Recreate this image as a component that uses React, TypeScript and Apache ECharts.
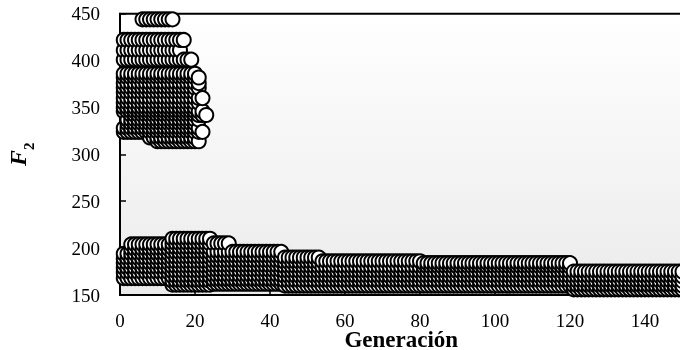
import React, { useEffect, useRef } from "react";
import * as echarts from "echarts";

// Runs of individuals that persisted across generations: [fromGen, toGen, F2]
const upperRuns: [number, number, number][] = [
  [6, 14, 444],
  [1, 17, 422],
  [1, 16, 411],
  [1, 19, 401],
  [1, 20, 386],
  [1, 21, 382],
  [1, 21, 376],
  [1, 21, 371],
  [1, 20, 366],
  [1, 22, 360],
  [1, 21, 355],
  [1, 20, 350],
  [1, 22, 346],
  [3, 23, 342],
  [2, 21, 337],
  [2, 20, 333],
  [1, 21, 328],
  [1, 22, 324],
  [8, 20, 318],
  [10, 21, 314],
];

const lowerRuns: [number, number, number][] = [
  [1, 2, 194],
  [1, 2, 189],
  [1, 2, 184],
  [1, 2, 179],
  [1, 2, 174],
  [1, 13, 168],
  [3, 13, 204],
  [3, 13, 199],
  [3, 13, 194],
  [3, 13, 189],
  [3, 13, 184],
  [3, 13, 179],
  [3, 13, 174],
  [14, 24, 210],
  [14, 24, 205],
  [14, 24, 200],
  [14, 24, 195],
  [14, 24, 190],
  [14, 24, 185],
  [14, 24, 180],
  [14, 24, 175],
  [14, 24, 170],
  [14, 24, 165],
  [14, 24, 161],
  [25, 29, 205],
  [25, 43, 196],
  [25, 43, 191],
  [25, 43, 186],
  [25, 43, 181],
  [25, 43, 176],
  [25, 43, 171],
  [25, 43, 166],
  [25, 43, 162],
  [44, 53, 190],
  [44, 53, 185],
  [44, 53, 180],
  [44, 53, 175],
  [44, 53, 170],
  [44, 53, 165],
  [44, 53, 160],
  [54, 80, 186],
  [81, 120, 184],
  [54, 120, 180],
  [54, 120, 175],
  [54, 120, 170],
  [54, 120, 165],
  [54, 120, 160],
  [121, 150, 175],
  [121, 150, 170],
  [121, 150, 165],
  [121, 150, 160],
  [121, 150, 156],
];

const yTicks = [150, 200, 250, 300, 350, 400, 450];
const xMax = 150;

function expand(runs: [number, number, number][]) {
  const pts: [number, number][] = [];
  for (const [a, b, f] of runs) {
    for (let g = a; g <= b; g++) pts.push([g, f]);
  }
  return pts;
}

export default function App() {
  const ref = useRef<HTMLDivElement>(null);
  useEffect(() => {
    if (!ref.current) return;
    const chart = echarts.init(ref.current, undefined, { renderer: "svg" });
    const pts = expand(upperRuns)
      .concat(expand(lowerRuns))
      .sort((p, q) => (p[0] - q[0]) || (p[1] - q[1]));
    const font = "Liberation Serif";
    chart.setOption({
      animation: false,
      grid: {
        left: 120,
        top: 13.7,
        right: -2.5,
        bottom: 55,
        containLabel: false,
        outerBoundsMode: "none",
        show: true,
        borderColor: "#000",
        borderWidth: 2,
        backgroundColor: new echarts.graphic.LinearGradient(0, 0, 0, 1, [
          { offset: 0, color: "#ffffff" },
          { offset: 1, color: "#ebebeb" },
        ]),
      },
      xAxis: {
        type: "value",
        min: 0,
        max: xMax,
        interval: 20,
        splitLine: { show: false },
        axisLine: { lineStyle: { color: "#000", width: 2 } },
        axisTick: { inside: true, length: 6, lineStyle: { color: "#000", width: 1.5 } },
        axisLabel: {
          color: "#000",
          fontFamily: font,
          fontSize: 19,
          lineHeight: 16,
          margin: 17,
          showMaxLabel: false,
        },
        name: "Generación",
        nameLocation: "middle",
        nameGap: 33,
        nameMoveOverlap: false,
        nameTextStyle: {
          color: "#000",
          fontFamily: font,
          fontSize: 23,
          fontWeight: "bold",
        },
      },
      yAxis: {
        type: "value",
        min: yTicks[0],
        max: yTicks[yTicks.length - 1],
        interval: 50,
        splitLine: { show: false },
        axisLine: { lineStyle: { color: "#000", width: 2 } },
        axisTick: { inside: true, length: 6, lineStyle: { color: "#000", width: 1.5 } },
        axisLabel: { color: "#000", fontFamily: font, fontSize: 19, margin: 20 },
        name: "{f|F}{s|2}",
        nameLocation: "middle",
        nameRotate: 90,
        nameGap: 84,
        nameMoveOverlap: false,
        nameTextStyle: {
          color: "#000",
          rich: {
            f: {
              fontFamily: font,
              fontSize: 24,
              fontWeight: "bold",
              fontStyle: "italic",
              lineHeight: 30,
              verticalAlign: "top",
            },
            s: {
              fontFamily: font,
              fontSize: 15,
              fontWeight: "bold",
              lineHeight: 30,
              verticalAlign: "bottom",
            },
          },
        },
      },
      series: [
        {
          type: "scatter",
          data: pts,
          symbol: "circle",
          symbolSize: 14,
          clip: true,
          itemStyle: { color: "#fff", borderColor: "#000", borderWidth: 2, opacity: 1 },
        },
      ],
    });
    return () => chart.dispose();
  }, []);
  return (
    <div
      ref={ref}
      style={{ position: "fixed", left: 0, top: 0, width: 680, height: 350 }}
    />
  );
}
